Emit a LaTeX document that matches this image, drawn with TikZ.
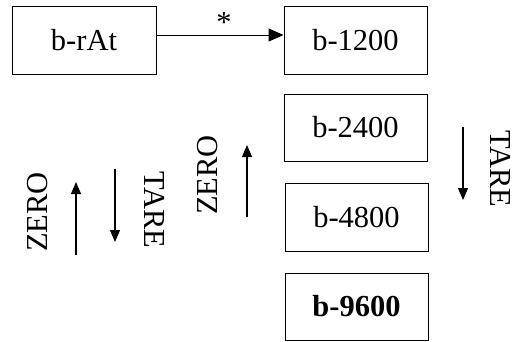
\documentclass[tikz,border=0pt]{standalone}
\usepackage{fontspec}
\setmainfont{Liberation Serif}
\usetikzlibrary{arrows.meta}
\begin{document}
\begin{tikzpicture}[x=1pt,y=-1pt,
  font=\fontsize{30.5}{36}\selectfont,
  box/.style={draw,line width=1pt,minimum width=143pt,minimum height=68pt,inner sep=0pt},
  lbl/.style={inner sep=0pt},
  harrow/.style={line width=1pt,-{Triangle[length=15pt,width=13pt]}},
  varrow/.style={line width=1.1pt,-{Triangle[length=12pt,width=10pt]}}]
\useasboundingbox (0,0) rectangle (532,341);
\node[box,minimum width=144pt] (rat) at (84,40) {b-rAt};
\node[box] (b1200) at (355.5,40) {b-1200};
\node[box,minimum height=67pt] (b2400) at (355.5,127.5) {b-2400};
\node[box] (b4800) at (356.5,217) {b-4800};
\node[box,minimum height=67pt] (b9600) at (356.5,306.5) {\bfseries b-9600};
\draw[harrow] ([yshift=5pt]rat.east) -- ([yshift=5pt]b1200.west);
\node[lbl] (star) at (224,23) {*};
\node[lbl,rotate=90] (zeroL) at (37.5,212) {ZERO};
\node[lbl,rotate=-90] (tareL) at (155,210) {TARE};
\node[lbl,rotate=90] (zeroM) at (207.5,175) {ZERO};
\node[lbl,rotate=-90] (tareR) at (501,169) {TARE};
\coordinate (u1a) at (76,255); \coordinate (u1b) at (76,182);
\coordinate (d1a) at (115,169); \coordinate (d1b) at (115,242);
\coordinate (u2a) at (247,217); \coordinate (u2b) at (247,145);
\coordinate (d2a) at (463,127); \coordinate (d2b) at (463,200);
\draw[varrow] (u1a) -- (u1b);
\draw[varrow] (d1a) -- (d1b);
\draw[varrow] (u2a) -- (u2b);
\draw[varrow] (d2a) -- (d2b);
\end{tikzpicture}
\end{document}
